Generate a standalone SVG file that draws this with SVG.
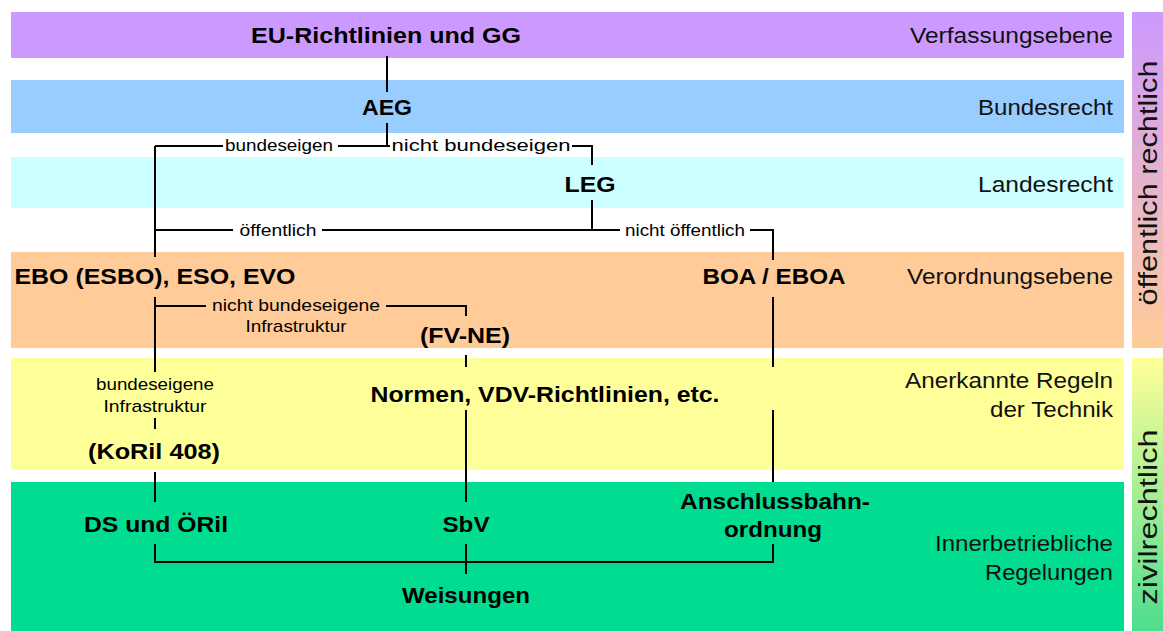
<svg xmlns="http://www.w3.org/2000/svg" width="1163" height="631" viewBox="0 0 1163 631">
<defs>
<linearGradient id="gUp" x1="0" y1="0" x2="0" y2="1">
<stop offset="0" stop-color="#cc99ff"/>
<stop offset="1" stop-color="#ffcc99"/>
</linearGradient>
<linearGradient id="gDown" x1="0" y1="0" x2="0" y2="1">
<stop offset="0" stop-color="#ffff99"/>
<stop offset="1" stop-color="#4ddd8f"/>
</linearGradient>
<style>
.b{font-family:"Liberation Sans",Arial,sans-serif;font-weight:bold;font-size:22.5px;fill:#000;text-anchor:middle}
.r{font-family:"Liberation Sans",Arial,sans-serif;font-size:22.5px;fill:#111;text-anchor:end}
.s{font-family:"Liberation Sans",Arial,sans-serif;font-size:17px;fill:#000;text-anchor:middle}
.v{font-family:"Liberation Sans",Arial,sans-serif;font-size:25px;fill:#111;text-anchor:middle}
.c{fill:none;stroke:#000;stroke-width:2}
</style>
</defs>
<rect width="1163" height="631" fill="#ffffff"/>
<g id="bands">
<rect x="11" y="12" width="1113" height="46" fill="#cc99ff"/>
<rect x="11" y="80" width="1113" height="53" fill="#99ccff"/>
<rect x="11" y="157" width="1113" height="51" fill="#ccffff"/>
<rect x="11" y="252" width="1113" height="96" fill="#ffcc99"/>
<rect x="11" y="358" width="1113" height="112" fill="#ffff99"/>
<rect x="11" y="482" width="1113" height="149" fill="#00dd90"/>
<rect x="1132" y="12" width="31" height="336" fill="url(#gUp)"/>
<rect x="1132" y="358" width="31" height="273" fill="url(#gDown)"/>
</g>
<g id="levels">
<text class="r" x="1113" y="43" textLength="203" lengthAdjust="spacingAndGlyphs">Verfassungsebene</text>
<text class="r" x="1113" y="115" textLength="135" lengthAdjust="spacingAndGlyphs">Bundesrecht</text>
<text class="r" x="1113" y="192" textLength="135" lengthAdjust="spacingAndGlyphs">Landesrecht</text>
<text class="r" x="1113" y="284" textLength="206" lengthAdjust="spacingAndGlyphs">Verordnungsebene</text>
<text class="r" x="1113" y="388" textLength="208" lengthAdjust="spacingAndGlyphs">Anerkannte Regeln</text>
<text class="r" x="1113" y="417" textLength="123" lengthAdjust="spacingAndGlyphs">der Technik</text>
<text class="r" x="1113" y="551" textLength="178" lengthAdjust="spacingAndGlyphs">Innerbetriebliche</text>
<text class="r" x="1113" y="580" textLength="128" lengthAdjust="spacingAndGlyphs">Regelungen</text>
<text class="v" transform="translate(1157,183) rotate(-90)" textLength="245" lengthAdjust="spacingAndGlyphs">öffentlich rechtlich</text>
<text class="v" transform="translate(1157,517) rotate(-90)" textLength="175" lengthAdjust="spacingAndGlyphs">zivilrechtlich</text>
</g>
<g id="connectors">
<path class="c" d="M387 56V92M387 123V146M155 146H223M338 146H390M572 146H592V165"/>
<path class="c" d="M155 146V257M592 200V230M155 230H233M322 230H620M750 230H773V260"/>
<path class="c" d="M155 297V372M155 306H206M386 306H466V316M155 418V429M155 472V502"/>
<path class="c" d="M466 355V367M466 410V502M466 544V574M773 297V367M773 410V482"/>
<path class="c" d="M155 544V562H773V544"/>
</g>
<g id="edge-labels">
<text class="s" x="279" y="151" textLength="108" lengthAdjust="spacingAndGlyphs">bundeseigen</text>
<text class="s" x="481" y="151" textLength="179" lengthAdjust="spacingAndGlyphs">nicht bundeseigen</text>
<text class="s" x="278" y="236" textLength="77" lengthAdjust="spacingAndGlyphs">öffentlich</text>
<text class="s" x="685" y="236" textLength="120" lengthAdjust="spacingAndGlyphs">nicht öffentlich</text>
<text class="s" x="296" y="311" textLength="168" lengthAdjust="spacingAndGlyphs">nicht bundeseigene</text>
<text class="s" x="296" y="332" textLength="101" lengthAdjust="spacingAndGlyphs">Infrastruktur</text>
<text class="s" x="155" y="390" textLength="118" lengthAdjust="spacingAndGlyphs">bundeseigene</text>
<text class="s" x="155" y="412" textLength="103" lengthAdjust="spacingAndGlyphs">Infrastruktur</text>
</g>
<g id="node-eu"><text class="b" x="386" y="43" textLength="270" lengthAdjust="spacingAndGlyphs">EU-Richtlinien und GG</text></g>
<g id="node-aeg"><text class="b" x="387" y="115" textLength="50" lengthAdjust="spacingAndGlyphs">AEG</text></g>
<g id="node-leg"><text class="b" x="590" y="192" textLength="51" lengthAdjust="spacingAndGlyphs">LEG</text></g>
<g id="node-ebo"><text class="b" x="155" y="284" textLength="281" lengthAdjust="spacingAndGlyphs">EBO (ESBO), ESO, EVO</text></g>
<g id="node-boa"><text class="b" x="774" y="284" textLength="143" lengthAdjust="spacingAndGlyphs">BOA / EBOA</text></g>
<g id="node-fvne"><text class="b" x="465" y="343" textLength="90" lengthAdjust="spacingAndGlyphs">(FV-NE)</text></g>
<g id="node-normen"><text class="b" x="545" y="402" textLength="349" lengthAdjust="spacingAndGlyphs">Normen, VDV-Richtlinien, etc.</text></g>
<g id="node-koril"><text class="b" x="154" y="459" textLength="132" lengthAdjust="spacingAndGlyphs">(KoRil 408)</text></g>
<g id="node-ds"><text class="b" x="156" y="532" textLength="144" lengthAdjust="spacingAndGlyphs">DS und ÖRil</text></g>
<g id="node-sbv"><text class="b" x="466" y="532" textLength="47" lengthAdjust="spacingAndGlyphs">SbV</text></g>
<g id="node-anschluss">
<text class="b" x="775" y="509" textLength="190" lengthAdjust="spacingAndGlyphs">Anschlussbahn-</text>
<text class="b" x="773" y="537" textLength="98" lengthAdjust="spacingAndGlyphs">ordnung</text>
</g>
<g id="node-weisungen"><text class="b" x="466" y="603" textLength="128" lengthAdjust="spacingAndGlyphs">Weisungen</text></g>
</svg>
